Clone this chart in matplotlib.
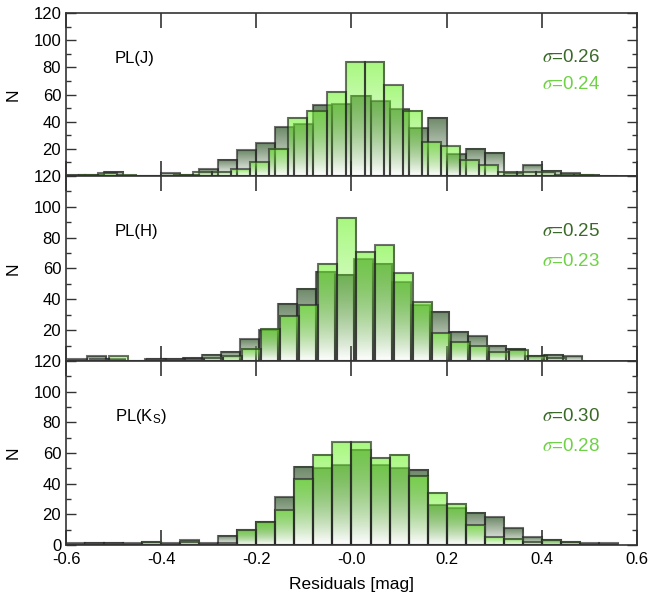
import numpy as np
import matplotlib.pyplot as plt
from matplotlib.ticker import MultipleLocator

plt.rcParams['font.family'] = ['Liberation Sans', 'DejaVu Sans']
plt.rcParams['mathtext.fontset'] = 'stix'

bin_width = 0.04

bands = ["PL(J)", "PL(H)", r"PL(K$_\mathregular{S}$)"]
sigma_dark = [0.26, 0.25, 0.30]
sigma_light = [0.24, 0.23, 0.28]

# J band
j_dark_start = -0.60
j_dark = [1, 1, 3, 0, 0, 2, 1, 5, 12, 19, 24, 36, 38, 52, 53,
          59, 55, 49, 35, 43, 16, 20, 17, 2, 8, 4, 2, 1, 0]
j_light_start = -0.5725
j_light = [1, 2, 1, 0, 0, 1, 3, 3, 5, 10, 20, 43, 48, 62, 84,
           84, 67, 48, 25, 22, 12, 8, 3, 3, 3, 1, 1]

# H band
h_dark_start = -0.595
h_dark = [1, 3, 1, 0, 1, 1, 2, 4, 6, 14, 20, 37, 47, 58, 56,
          66, 63, 51, 36, 32, 19, 16, 10, 8, 3, 4, 3]
h_light_start = -0.59
h_light = [0, 1, 3, 0, 1, 1, 1, 2, 3, 8, 21, 29, 36, 63, 93,
           71, 75, 57, 38, 18, 12, 10, 6, 7, 3, 2, 0]

# Ks band
k_dark_start = -0.60
k_dark = [1, 1, 1, 1, 2, 1, 3, 1, 6, 10, 15, 31, 51, 50, 52,
          62, 52, 50, 49, 26, 24, 21, 18, 11, 5, 3, 2, 1, 1]
k_light_start = -0.60
k_light = [0, 1, 1, 0, 2, 0, 2, 0, 1, 10, 15, 23, 43, 59, 67,
           67, 57, 59, 45, 34, 27, 13, 5, 4, 2, 3, 2, 0, 0]

panels = [
    (j_dark_start, j_dark, j_light_start, j_light),
    (h_dark_start, h_dark, h_light_start, h_light),
    (k_dark_start, k_dark, k_light_start, k_light),
]

dark_rgb = (0.40, 0.51, 0.38)
light_rgb = (0.46, 0.96, 0.21)
dark_text = '#3b6a28'
light_text = '#6fd246'


def gradient_bars(ax, start, counts, rgb, alpha, z):
    lefts = start + bin_width * np.arange(len(counts))
    bars = ax.bar(lefts, counts, width=bin_width, align='edge',
                  facecolor='none', edgecolor='#262626', linewidth=1.5,
                  alpha=0.65, zorder=z + 0.5)
    ramp = np.linspace(0.0, 1.0, 64)
    img = np.zeros((64, 1, 4))
    img[:, 0, 0] = rgb[0]
    img[:, 0, 1] = rgb[1]
    img[:, 0, 2] = rgb[2]
    img[:, 0, 3] = alpha * ramp
    for b in bars:
        x0 = b.get_x()
        w = b.get_width()
        h = b.get_height()
        if h <= 0:
            continue
        ax.imshow(img, extent=(x0, x0 + w, 0, h), origin='lower',
                  aspect='auto', interpolation='bilinear', zorder=z)


fig = plt.figure(figsize=(6.49, 6.06), dpi=100)

# panel rectangles (left, bottom, width, height) in figure fraction
rects = [
    (0.1017, 0.7096, 0.8798, 0.2689),
    (0.1017, 0.4043, 0.8798, 0.3053),
    (0.1017, 0.1007, 0.8798, 0.3036),
]
label_y = [0.72, 0.70, 0.70]
sig_y = [(0.73, 0.564), (0.70, 0.54), (0.70, 0.535)]

for i, (ds, dc, ls, lc) in enumerate(panels):
    ax = fig.add_axes(rects[i])
    gradient_bars(ax, ds, dc, dark_rgb, 0.95, 2)
    gradient_bars(ax, ls, lc, light_rgb, 0.63, 4)

    ax.set_xlim(-0.6, 0.6)
    ax.set_ylim(0, 120)

    ax.set_xticks([-0.6, -0.4, -0.2, 0.0, 0.2, 0.4, 0.6])
    ax.set_yticks([0, 20, 40, 60, 80, 100, 120])
    ax.yaxis.set_minor_locator(MultipleLocator(10))
    if i == 2:
        ax.set_xticklabels(['-0.6', '-0.4', '-0.2', '-0.0', '0.2', '0.4', '0.6'])
        ax.set_yticklabels(['0', '20', '40', '60', '80', '100', '120'])
        ax.set_xlabel('Residuals [mag]', fontsize=12.5, labelpad=7)
    else:
        ax.set_xticklabels([])
        ax.set_yticklabels(['', '20', '40', '60', '80', '100', '120'])

    ax.tick_params(axis='x', direction='in', top=True, length=11, width=1.1,
                   labelsize=12, pad=5, color='#222222')
    ax.tick_params(axis='y', which='major', direction='in', left=True, right=True,
                   length=7, width=1.0, labelsize=12, color='#333333')
    ax.tick_params(axis='y', which='minor', direction='in', left=True, right=True,
                   length=3.5, width=1.0, color='#333333')
    for sp in ax.spines.values():
        sp.set_linewidth(1.2)
        sp.set_color('#333333')
        sp.set_zorder(10)

    ax.set_ylabel('N', fontsize=12.5)
    ax.yaxis.set_label_coords(-0.08, 0.5)

    ax.text(0.086, label_y[i], bands[i], transform=ax.transAxes,
            fontsize=12, va='center', ha='left')
    ax.text(0.833, sig_y[i][0], r'$\sigma$=%.2f' % sigma_dark[i],
            transform=ax.transAxes, fontsize=13.5, va='center', ha='left',
            color=dark_text)
    ax.text(0.833, sig_y[i][1], r'$\sigma$=%.2f' % sigma_light[i],
            transform=ax.transAxes, fontsize=13.5, va='center', ha='left',
            color=light_text)

fig.savefig('out.png', dpi=100)
